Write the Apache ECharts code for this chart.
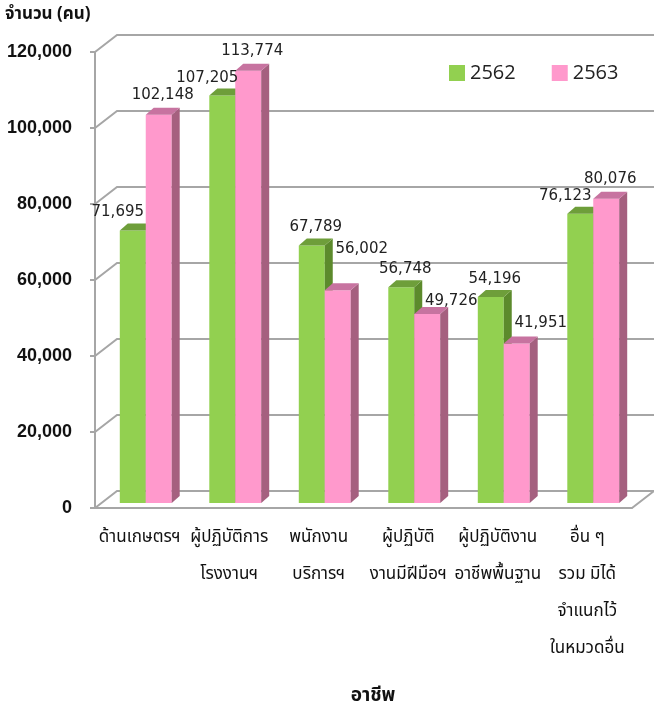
<!DOCTYPE html>
<html>
<head>
<meta charset="utf-8">
<script src="https://cdn.jsdelivr.net/npm/echarts@6/dist/echarts.min.js"></script>
<style>
  html, body { margin: 0; padding: 0; background: #fff; }
  #chart { width: 654px; height: 713px; }
</style>
</head>
<body>
<div id="chart"></div>
<script>
var categories = ['ด้านเกษตรฯ', 'ผู้ปฏิบัติการ\nโรงงานฯ', 'พนักงาน\nบริการฯ', 'ผู้ปฏิบัติ\nงานมีฝีมือฯ', 'ผู้ปฏิบัติงาน\nอาชีพพื้นฐาน', 'อื่น ๆ\nรวม มิได้\nจำแนกไว้\nในหมวดอื่น'];
var values2562 = [71695, 107205, 67789, 56748, 54196, 76123];
var values2563 = [102148, 113774, 56002, 49726, 41951, 80076];
var yTicks = [0, 20000, 40000, 60000, 80000, 100000, 120000];

var thaiFont = 'Tahoma, "Noto Sans Thai", "Noto Sans", "DejaVu Sans", sans-serif';
var gridColor = '#a6a6a6';
// depth of the 3d box and of each bar
var wallDx = 22, wallDy = 17;
var barDx = 8, barDy = 7;

var faces = [
    { front: '#92d050', side: '#5c8a2c', top: '#6e9e3a' },
    { front: '#ff99cc', side: '#a5607f', top: '#c773a0' }
];

function fmt(v) {
    return v.toString().replace(/\B(?=(\d{3})+(?!\d))/g, ',');
}

function wallItem(params, api) {
    var cs = params.coordSys;
    var y = api.coord([0, api.value(1)])[1];
    var x0 = cs.x, x1 = cs.x + cs.width;
    var pts = [[x0, y], [x0 + wallDx, y - wallDy], [x1 + wallDx, y - wallDy]];
    if (api.value(1) === 0) pts.push([x1, y]);
    return {
        type: 'polyline',
        shape: { points: pts },
        style: { stroke: gridColor, lineWidth: 2, fill: null }
    };
}

function barRenderer(side, own, other) {
    return function (params, api) {
        var i = api.value(0), v = api.value(1);
        var base = api.coord([i, 0]);
        var top = api.coord([i, v]);
        var bw = api.size([1, 0])[0] * 0.29;
        var x0 = base[0] + 6 - (side === 0 ? bw : 0);
        var yb = base[1] - 5, yt = top[1] - 5;
        var c = faces[side];
        var zb = side * 10;

        // label placement, roughly like excel did it:
        // the lower bar of a pair pushes its label outwards
        var o = other[i];
        var lx = x0 + bw / 2, ly = yt - 18;
        if (side === 0) lx += (o > v) ? -15 : 4;
        else {
            lx += (o > v) ? 24 : 4;
            ly = yt - 20;
            // keep clear of the next group's first label
            if (o > v && i + 1 < own.length) {
                var nextLy = api.coord([i + 1, other[i + 1]])[1] - 5 - 18;
                if (Math.abs(nextLy - ly) < 18) {
                    ly = (nextLy > ly - 5) ? nextLy - 20 : nextLy + 22;
                }
            }
        }

        return {
            type: 'group',
            children: [
                { type: 'rect', z2: zb, shape: { x: x0, y: yt, width: bw, height: yb - yt }, style: { fill: c.front } },
                { type: 'polygon', z2: zb + 1, shape: { points: [[x0 + bw, yt], [x0 + bw + barDx, yt - barDy], [x0 + bw + barDx, yb - barDy], [x0 + bw, yb]] }, style: { fill: c.side } },
                { type: 'polygon', z2: zb + 1, shape: { points: [[x0, yt], [x0 + barDx, yt - barDy], [x0 + bw + barDx, yt - barDy], [x0 + bw, yt]] }, style: { fill: c.top } },
                { type: 'text', z2: 100, x: lx, y: ly, style: { text: fmt(v), fill: '#222', fontFamily: '"DejaVu Sans", sans-serif', fontSize: 15, align: 'center', verticalAlign: 'middle' } }
            ]
        };
    };
}

var chart = echarts.init(document.getElementById('chart'));
chart.setOption({
    animation: false,
    title: [
        { text: 'จำนวน (คน)', left: 5, top: 7, padding: 0, textStyle: { fontFamily: thaiFont, fontSize: 17, fontWeight: 'bold', color: '#111' } },
        { text: 'อาชีพ', left: 373, top: 688, padding: 0, textAlign: 'center', textStyle: { fontFamily: thaiFont, fontSize: 19, fontWeight: 'bold', color: '#111' } }
    ],
    legend: {
        left: 444, top: 58,
        itemWidth: 16, itemHeight: 16, itemGap: 36,
        icon: 'rect',
        textStyle: { fontFamily: '"Open Sans", sans-serif', fontSize: 20, color: '#222' },
        data: ['2562', '2563']
    },
    grid: { left: 95, right: 22, top: 52, bottom: 205 },
    xAxis: {
        type: 'category',
        data: categories,
        axisLine: { lineStyle: { color: gridColor, width: 2 } },
        axisTick: { show: false },
        axisLabel: { interval: 0, margin: 12, lineHeight: 37, fontFamily: thaiFont, fontSize: 17, color: '#111' }
    },
    yAxis: {
        type: 'value',
        min: 0, max: 120000, interval: 20000,
        axisLine: { show: true, lineStyle: { color: gridColor, width: 2 } },
        axisTick: { show: true, length: 5, lineStyle: { color: gridColor, width: 2 } },
        splitLine: { show: false },
        axisLabel: { margin: 23, fontFamily: '"Liberation Sans", Arial, sans-serif', fontSize: 18, fontWeight: 'bold', color: '#111', formatter: fmt }
    },
    series: [
        {
            type: 'custom', silent: true, z: 1,
            renderItem: wallItem,
            data: yTicks.map(function (t) { return [0, t]; })
        },
        {
            name: '2562', type: 'custom', z: 2,
            itemStyle: { color: faces[0].front },
            renderItem: barRenderer(0, values2562, values2563),
            data: values2562.map(function (v, i) { return [i, v]; })
        },
        {
            name: '2563', type: 'custom', z: 2,
            itemStyle: { color: faces[1].front },
            renderItem: barRenderer(1, values2563, values2562),
            data: values2563.map(function (v, i) { return [i, v]; })
        }
    ]
});
</script>
</body>
</html>
